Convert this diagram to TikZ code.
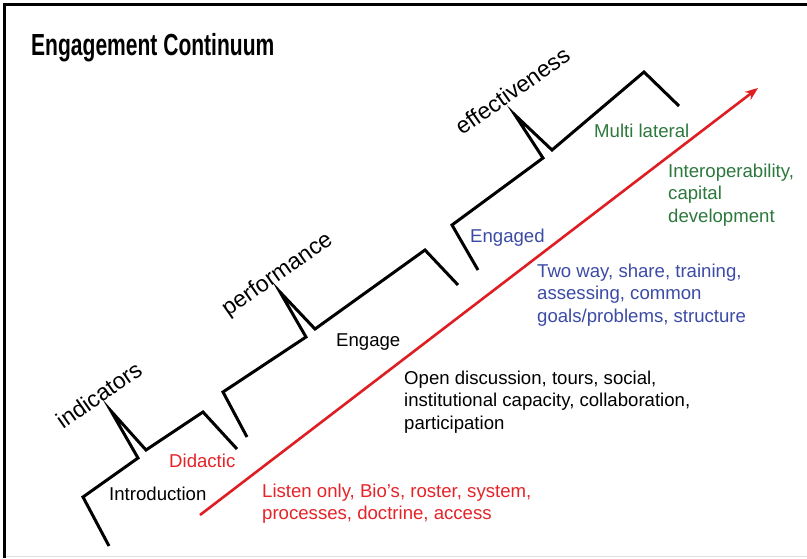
\documentclass[tikz,border=0pt]{standalone}
\usepackage{fontspec}
\setmainfont{Liberation Sans}
\usetikzlibrary{arrows.meta}
\definecolor{tred}{RGB}{230,35,40}
\definecolor{ared}{RGB}{222,30,35}
\definecolor{tblue}{RGB}{60,75,165}
\definecolor{tgreen}{RGB}{45,120,60}
\tikzset{
  stair/.style={draw=black, line width=3pt, line join=miter},
  lbl/.style={inner sep=0pt, anchor=base west, align=left, font=\fontsize{18.6}{22.5}\selectfont},
  rot/.style={inner sep=0pt, anchor=base west, rotate=35, font=\fontsize{23}{28}\selectfont},
}
\begin{document}
\begin{tikzpicture}[x=1pt,y=-1pt]
\useasboundingbox (0,0) rectangle (807,558);
\fill[white] (0,0) rectangle (807,558);
% frame
\draw[line width=2.6pt] (4.5,558) -- (4.5,4.5) -- (807,4.5);
\draw[line width=1pt, black!12] (6,556.5) -- (807,556.5);
% title
\node[inner sep=0pt, anchor=base west] (title) at (31,55) {\scalebox{0.69}[1]{\fontsize{30.5}{36}\selectfont\bfseries Engagement Continuum}};
% stairs
\draw[stair] (109,546) -- (83,497) -- (138,458) -- (111,411) -- (146,450) -- (203,412) -- (237,449);
\draw[stair] (247,437) -- (223,392) -- (306,337) -- (280,292) -- (315,329) -- (425,250) -- (458,285);
\draw[stair] (478,270) -- (452,225) -- (543,158) -- (515,115) -- (552,150) -- (644,72) -- (679,106);
% arrow
\coordinate (a0) at (200,515);
\coordinate (a1) at (758,88);
\draw[ared, line width=2.6pt, -{Stealth[length=13pt,width=10pt]}] (a0) -- (a1);
% rotated labels
\node[rot] (ind) at (63,430) {indicators};
\node[rot] (perf) at (228,317) {performance};
\node[rot] (eff) at (462,136) {effectiveness};
% labels (multi-line nodes: base = last line)
\node[lbl] (intro) at (109,500) {Introduction};
\node[lbl, text=tred] (did) at (169,467) {Didactic};
\node[lbl, text=tred] (listen) at (262,519.5) {Listen only, Bio’s, roster, system,\\processes, doctrine, access};
\node[lbl] (engage) at (336,346) {Engage};
\node[lbl] (open) at (404,429) {Open discussion, tours, social,\\institutional capacity, collaboration,\\participation};
\node[lbl, text=tblue] (engaged) at (470,242) {Engaged};
\node[lbl, text=tblue] (two) at (537,322) {Two way, share, training,\\assessing, common\\goals/problems, structure};
\node[lbl, text=tgreen] (multi) at (594,137) {Multi lateral};
\node[lbl, text=tgreen] (inter) at (668,222) {Interoperability,\\capital\\development};
\end{tikzpicture}
\end{document}
